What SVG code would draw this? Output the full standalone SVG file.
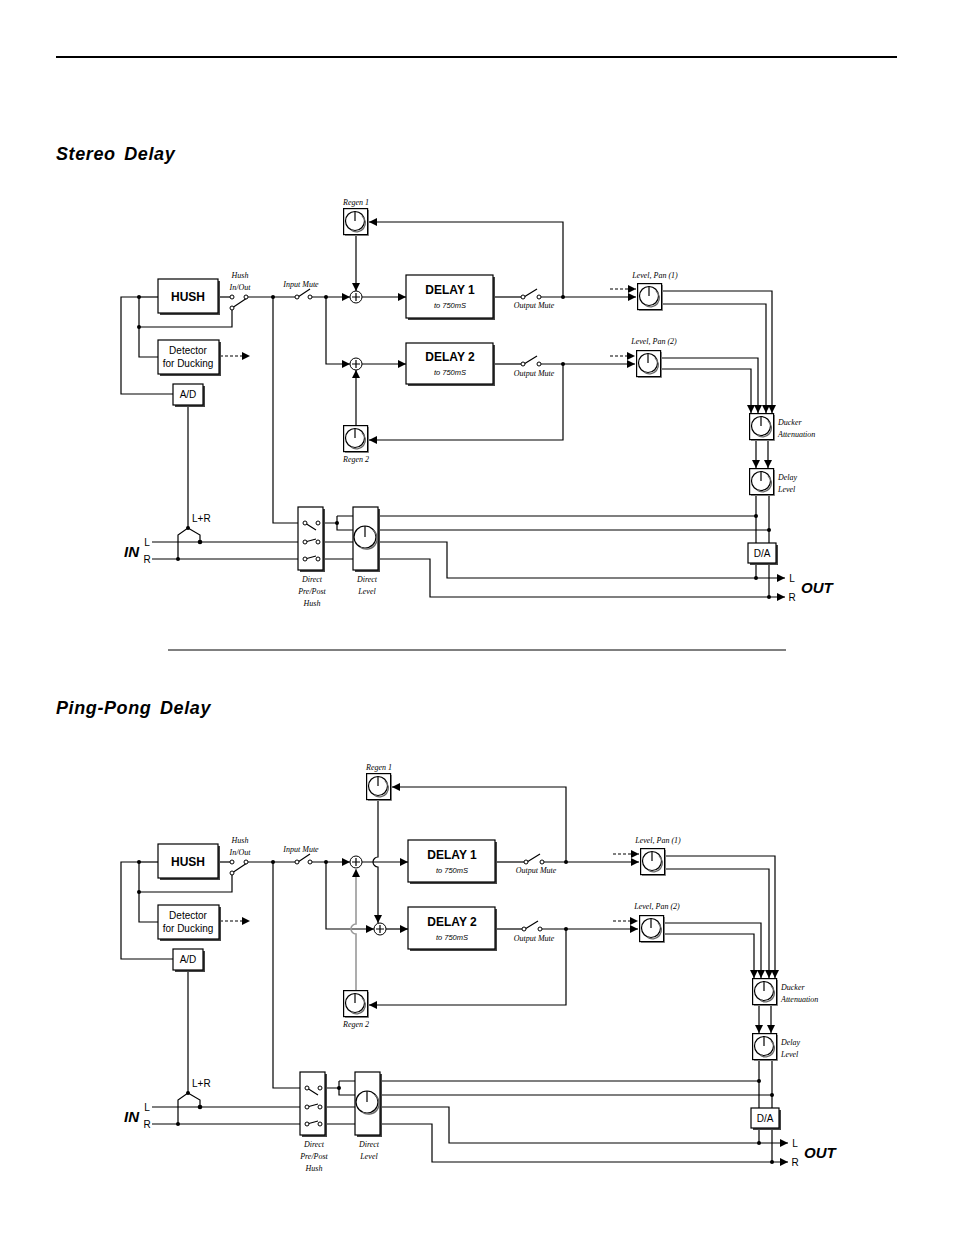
<svg xmlns="http://www.w3.org/2000/svg" width="954" height="1235" viewBox="0 0 954 1235">
<style>
.w{fill:none;stroke:#000;stroke-width:1.2}
.g{fill:none;stroke:#999;stroke-width:1.6}
.d{fill:none;stroke:#000;stroke-width:1.1;stroke-dasharray:3,2}
.box{fill:#fff;stroke:#000;stroke-width:1.2}
.sh{fill:#444}
.dot{fill:#000}
.ct{fill:#fff;stroke:#000;stroke-width:1}
.lab{font-family:"Liberation Serif",serif;font-style:italic;font-size:8px;fill:#000}
.sm{font-family:"Liberation Sans",sans-serif;font-style:italic;font-size:7.5px;fill:#000;text-anchor:middle}
.bt{font-family:"Liberation Sans",sans-serif;font-weight:bold;font-size:12px;fill:#000;text-anchor:middle}
.nt{font-family:"Liberation Sans",sans-serif;font-size:10px;fill:#000;text-anchor:middle}
.lr{font-family:"Liberation Sans",sans-serif;font-size:10px;fill:#000}
.io{font-family:"Liberation Sans",sans-serif;font-weight:bold;font-style:italic;font-size:15px;fill:#000}
.ti{font-family:"Liberation Sans",sans-serif;font-weight:bold;font-style:italic;font-size:18px;letter-spacing:0.6px;word-spacing:3px;fill:#000}
</style>
<defs>
<marker id="a" viewBox="0 0 10 10" refX="10" refY="5" markerWidth="8" markerHeight="8" markerUnits="userSpaceOnUse" orient="auto"><path d="M0,0L10,5L0,10z" fill="#000"/></marker>
<symbol id="knob" viewBox="0 0 27 29">
<rect x="2" y="2" width="24" height="26" fill="#999"/>
<rect x="0.6" y="0.6" width="24" height="26" fill="#fff" stroke="#000" stroke-width="1.2"/>
<circle cx="12" cy="13" r="9.5" fill="#fff" stroke="#000" stroke-width="1.2"/>
<path d="M19,8 A8.5,8.5 0 0 1 8,22" fill="none" stroke="#666" stroke-width="1.3"/>
<line x1="12" y1="13" x2="12" y2="3.5" stroke="#000" stroke-width="1.2"/>
</symbol>
</defs>
<rect width="954" height="1235" fill="#fff"/>
<line x1="56" y1="57" x2="897" y2="57" stroke="#000" stroke-width="2"/>
<text class="ti" x="56" y="160">Stereo Delay</text>
<text class="ti" x="56" y="714">Ping-Pong Delay</text>
<line x1="168" y1="650" x2="786" y2="650" stroke="#000" stroke-width="1"/>

<g id="sd">
<g id="sd-connectors">
<path class="w" d="M139,297H121V394H173"/>
<path class="w" d="M139,297H158"/>
<path class="w" d="M139,297V357H158"/>
<path class="w" d="M139,327H232V309"/>
<path class="w" d="M218,297H230"/>
<path class="w" d="M232,308L247,298"/>
<path class="w" d="M248,297H295"/>
<path class="w" d="M273,297V523H303"/>
<path class="w" d="M298,297L310,289"/>
<path class="w" d="M312,297H350" marker-end="url(#a)"/>
<path class="w" d="M326,297V364H350" marker-end="url(#a)"/>
<path class="w" d="M362,297H406" marker-end="url(#a)"/>
<path class="w" d="M362,364H406" marker-end="url(#a)"/>
<path class="w" d="M356,235V291" marker-end="url(#a)"/>
<path class="w" d="M356,425V370" marker-end="url(#a)"/>
<path class="w" d="M493,297H521"/>
<path class="w" d="M524,297L537,289"/>
<path class="w" d="M541,297H636" marker-end="url(#a)"/>
<path class="w" d="M563,297V222H369" marker-end="url(#a)"/>
<path class="w" d="M493,364H521"/>
<path class="w" d="M524,364L537,356"/>
<path class="w" d="M541,364H635" marker-end="url(#a)"/>
<path class="w" d="M563,364V440H369" marker-end="url(#a)"/>
<path class="d" d="M220,356H250" marker-end="url(#a)"/>
<path class="d" d="M610,289H636" marker-end="url(#a)"/>
<path class="d" d="M610,356H635" marker-end="url(#a)"/>
<path class="w" d="M663,291H772V413" marker-end="url(#a)"/>
<path class="w" d="M663,304H766V413" marker-end="url(#a)"/>
<path class="w" d="M662,358H758V413" marker-end="url(#a)"/>
<path class="w" d="M662,369H751V413" marker-end="url(#a)"/>
<path class="w" d="M756,440V468" marker-end="url(#a)"/>
<path class="w" d="M768,440V468" marker-end="url(#a)"/>
<path class="w" d="M756,494V578"/>
<path class="w" d="M769,494V597"/>
<path class="w" d="M378,516H756"/>
<path class="w" d="M378,530H769"/>
<path class="w" d="M378,542H447V578H785" marker-end="url(#a)"/>
<path class="w" d="M378,559H430V597H785" marker-end="url(#a)"/>
<path class="w" d="M152,542H303"/>
<path class="w" d="M152,559H303"/>
<path class="w" d="M318,542H353"/>
<path class="w" d="M318,559H353"/>
<path class="w" d="M318,523H337M337,516V530H353M337,516H353"/>
<path class="w" d="M188,405V528L178,535V559M188,528L200,535V542"/>
<g class="dot">
<circle cx="139" cy="297" r="2"/><circle cx="139" cy="327" r="2"/><circle cx="273" cy="297" r="2"/>
<circle cx="326" cy="297" r="2"/><circle cx="563" cy="297" r="2"/><circle cx="563" cy="364" r="2"/>
<circle cx="188" cy="528" r="2"/><circle cx="178" cy="559" r="2"/><circle cx="200" cy="542" r="2.3"/>
<circle cx="337" cy="523" r="2"/><circle cx="756" cy="516" r="2"/><circle cx="769" cy="530" r="2"/>
<circle cx="756" cy="578" r="2"/><circle cx="769" cy="597" r="2"/>
</g>
<g>
<circle class="ct" cx="232" cy="297" r="2"/><circle class="ct" cx="246" cy="297" r="2"/><circle class="ct" cx="232" cy="308" r="2"/>
<circle class="ct" cx="297" cy="297" r="2"/><circle class="ct" cx="310" cy="297" r="2"/>
<circle class="ct" cx="523" cy="297" r="2"/><circle class="ct" cx="539" cy="297" r="2"/>
<circle class="ct" cx="523" cy="364" r="2"/><circle class="ct" cx="539" cy="364" r="2"/>
</g>
</g>
<g id="sd-hush"><rect class="sh" x="160" y="281" width="60" height="34"/><rect class="box" x="158" y="279" width="60" height="34"/><text class="bt" x="188" y="301">HUSH</text></g>
<g id="sd-detector"><rect class="sh" x="160" y="342" width="61" height="34"/><rect class="box" x="158" y="340" width="61" height="34"/><text class="nt" x="188" y="354">Detector</text><text class="nt" x="188" y="367">for Ducking</text></g>
<g id="sd-ad"><rect class="sh" x="175" y="386" width="30" height="21"/><rect class="box" x="173" y="384" width="30" height="21"/><text class="nt" x="188" y="398">A/D</text></g>
<g id="sd-hushsw"><text class="lab" x="240" y="278" text-anchor="middle">Hush</text><text class="lab" x="240" y="290" text-anchor="middle">In/Out</text></g>
<g id="sd-inmute"><text class="lab" x="301" y="287" text-anchor="middle">Input Mute</text></g>
<g id="sd-sum1"><circle class="ct" cx="356" cy="297" r="6"/><path class="w" d="M352,297H360M356,293V301"/></g>
<g id="sd-sum2"><circle class="ct" cx="356" cy="364" r="6"/><path class="w" d="M352,364H360M356,360V368"/></g>
<g id="sd-regen1"><use href="#knob" x="343" y="208" width="27" height="29"/><text class="lab" x="356" y="205" text-anchor="middle">Regen 1</text></g>
<g id="sd-regen2"><use href="#knob" x="343" y="425" width="27" height="29"/><text class="lab" x="356" y="462" text-anchor="middle">Regen 2</text></g>
<g id="sd-delay1"><rect class="sh" x="408" y="277" width="87" height="43"/><rect class="box" x="406" y="275" width="87" height="43"/><text class="bt" x="450" y="294">DELAY 1</text><text class="sm" x="450" y="308">to 750mS</text></g>
<g id="sd-delay2"><rect class="sh" x="408" y="345" width="87" height="41"/><rect class="box" x="406" y="343" width="87" height="41"/><text class="bt" x="450" y="361">DELAY 2</text><text class="sm" x="450" y="375">to 750mS</text></g>
<g id="sd-outmute"><text class="lab" x="534" y="308" text-anchor="middle">Output Mute</text><text class="lab" x="534" y="376" text-anchor="middle">Output Mute</text></g>
<g id="sd-lp1"><use href="#knob" x="637" y="283" width="27" height="29"/><text class="lab" x="655" y="278" text-anchor="middle">Level, Pan (1)</text></g>
<g id="sd-lp2"><use href="#knob" x="636" y="350" width="27" height="29"/><text class="lab" x="654" y="344" text-anchor="middle">Level, Pan (2)</text></g>
<g id="sd-ducker"><use href="#knob" x="749" y="413" width="27" height="29"/><text class="lab" x="778" y="425">Ducker</text><text class="lab" x="778" y="437">Attenuation</text></g>
<g id="sd-dlevel"><use href="#knob" x="749" y="468" width="27" height="29"/><text class="lab" x="778" y="480">Delay</text><text class="lab" x="778" y="492">Level</text></g>
<g id="sd-da"><rect class="sh" x="750" y="545" width="28" height="20"/><rect class="box" x="748" y="543" width="28" height="20"/><text class="nt" x="762" y="557">D/A</text></g>
<g id="sd-direct"><rect class="sh" x="300" y="509" width="25" height="63"/><rect class="box" x="298" y="507" width="25" height="63"/>
<path class="w" d="M305,523L316,530M305,542L316,539M305,559L316,556"/>
<circle class="ct" cx="305" cy="523" r="2"/><circle class="ct" cx="318" cy="523" r="2"/><circle class="ct" cx="305" cy="542" r="2"/><circle class="ct" cx="318" cy="542" r="2"/><circle class="ct" cx="305" cy="559" r="2"/><circle class="ct" cx="318" cy="559" r="2"/>
<text class="lab" x="312" y="582" text-anchor="middle">Direct</text><text class="lab" x="312" y="594" text-anchor="middle">Pre/Post</text><text class="lab" x="312" y="606" text-anchor="middle">Hush</text></g>
<g id="sd-dirlevel"><rect class="sh" x="355" y="509" width="25" height="63"/><rect class="box" x="353" y="507" width="25" height="63"/>
<circle cx="365" cy="537" r="11" fill="#fff" stroke="#000" stroke-width="1.2"/><path d="M373,530A10,10 0 0 1 360,547" fill="none" stroke="#666" stroke-width="1.3"/><line x1="365" y1="537" x2="365" y2="526" stroke="#000" stroke-width="1.2"/>
<text class="lab" x="367" y="582" text-anchor="middle">Direct</text><text class="lab" x="367" y="594" text-anchor="middle">Level</text></g>
<g id="sd-io"><text class="io" x="124" y="557">IN</text><text class="nt" x="147" y="546" font-size="9">L</text><text class="nt" x="147" y="563" font-size="9">R</text><text class="lr" x="192" y="522">L+R</text>
<text class="nt" x="792" y="582" font-size="9">L</text><text class="nt" x="792" y="601" font-size="9">R</text><text class="io" x="801" y="593">OUT</text></g>
</g>

<g id="pp" transform="translate(0,565)">
<g id="pp-connectors">
<path class="w" d="M139,297H121V394H173"/>
<path class="w" d="M139,297H158"/>
<path class="w" d="M139,297V357H158"/>
<path class="w" d="M139,327H232V309"/>
<path class="w" d="M218,297H230"/>
<path class="w" d="M232,308L247,298"/>
<path class="w" d="M248,297H295"/>
<path class="w" d="M273,297V523H305"/>
<path class="w" d="M298,297L310,289"/>
<path class="w" d="M312,297H350" marker-end="url(#a)"/>
<path class="w" d="M326,297V364H374" marker-end="url(#a)"/>
<path class="w" d="M362,297H408" marker-end="url(#a)"/>
<path class="w" d="M386,364H408" marker-end="url(#a)"/>
<path class="w" d="M378,235V292A5,5 0 0 0 378,302V358" marker-end="url(#a)"/>
<path class="g" d="M356,425V369A5,5 0 0 1 356,359V304" marker-end="url(#a)"/>
<path class="w" d="M496,297H524"/>
<path class="w" d="M527,297L540,289"/>
<path class="w" d="M544,297H639" marker-end="url(#a)"/>
<path class="w" d="M566,297V222H392" marker-end="url(#a)"/>
<path class="w" d="M496,364H522"/>
<path class="w" d="M525,364L538,356"/>
<path class="w" d="M542,364H638" marker-end="url(#a)"/>
<path class="w" d="M566,364V440H369" marker-end="url(#a)"/>
<path class="d" d="M220,356H250" marker-end="url(#a)"/>
<path class="d" d="M613,289H639" marker-end="url(#a)"/>
<path class="d" d="M613,356H638" marker-end="url(#a)"/>
<path class="w" d="M666,291H775V413" marker-end="url(#a)"/>
<path class="w" d="M666,304H769V413" marker-end="url(#a)"/>
<path class="w" d="M665,358H761V413" marker-end="url(#a)"/>
<path class="w" d="M665,369H754V413" marker-end="url(#a)"/>
<path class="w" d="M759,440V468" marker-end="url(#a)"/>
<path class="w" d="M771,440V468" marker-end="url(#a)"/>
<path class="w" d="M759,494V578"/>
<path class="w" d="M772,494V597"/>
<path class="w" d="M380,516H759"/>
<path class="w" d="M380,530H772"/>
<path class="w" d="M380,542H449V578H788" marker-end="url(#a)"/>
<path class="w" d="M380,559H432V597H788" marker-end="url(#a)"/>
<path class="w" d="M152,542H305"/>
<path class="w" d="M152,559H305"/>
<path class="w" d="M320,542H355"/>
<path class="w" d="M320,559H355"/>
<path class="w" d="M320,523H339M339,516V530H355M339,516H355"/>
<path class="w" d="M188,405V528L178,535V559M188,528L200,535V542"/>
<g class="dot">
<circle cx="139" cy="297" r="2"/><circle cx="139" cy="327" r="2"/><circle cx="273" cy="297" r="2"/>
<circle cx="326" cy="297" r="2"/><circle cx="566" cy="297" r="2"/><circle cx="566" cy="364" r="2"/>
<circle cx="188" cy="528" r="2"/><circle cx="178" cy="559" r="2"/><circle cx="200" cy="542" r="2.3"/>
<circle cx="339" cy="523" r="2"/><circle cx="759" cy="516" r="2"/><circle cx="772" cy="530" r="2"/>
<circle cx="759" cy="578" r="2"/><circle cx="772" cy="597" r="2"/>
</g>
<g>
<circle class="ct" cx="232" cy="297" r="2"/><circle class="ct" cx="246" cy="297" r="2"/><circle class="ct" cx="232" cy="308" r="2"/>
<circle class="ct" cx="297" cy="297" r="2"/><circle class="ct" cx="310" cy="297" r="2"/>
<circle class="ct" cx="526" cy="297" r="2"/><circle class="ct" cx="542" cy="297" r="2"/>
<circle class="ct" cx="524" cy="364" r="2"/><circle class="ct" cx="540" cy="364" r="2"/>
</g>
</g>
<g id="pp-hush"><rect class="sh" x="160" y="281" width="60" height="34"/><rect class="box" x="158" y="279" width="60" height="34"/><text class="bt" x="188" y="301">HUSH</text></g>
<g id="pp-detector"><rect class="sh" x="160" y="342" width="61" height="34"/><rect class="box" x="158" y="340" width="61" height="34"/><text class="nt" x="188" y="354">Detector</text><text class="nt" x="188" y="367">for Ducking</text></g>
<g id="pp-ad"><rect class="sh" x="175" y="386" width="30" height="21"/><rect class="box" x="173" y="384" width="30" height="21"/><text class="nt" x="188" y="398">A/D</text></g>
<g id="pp-hushsw"><text class="lab" x="240" y="278" text-anchor="middle">Hush</text><text class="lab" x="240" y="290" text-anchor="middle">In/Out</text></g>
<g id="pp-inmute"><text class="lab" x="301" y="287" text-anchor="middle">Input Mute</text></g>
<g id="pp-sum1"><circle class="ct" cx="356" cy="297" r="6"/><path class="w" d="M352,297H360M356,293V301"/></g>
<g id="pp-sum2"><circle class="ct" cx="380" cy="364" r="6"/><path class="w" d="M376,364H384M380,360V368"/></g>
<g id="pp-regen1"><use href="#knob" x="366" y="208" width="27" height="29"/><text class="lab" x="379" y="205" text-anchor="middle">Regen 1</text></g>
<g id="pp-regen2"><use href="#knob" x="343" y="425" width="27" height="29"/><text class="lab" x="356" y="462" text-anchor="middle">Regen 2</text></g>
<g id="pp-delay1"><rect class="sh" x="410" y="277" width="87" height="42"/><rect class="box" x="408" y="275" width="87" height="42"/><text class="bt" x="452" y="294">DELAY 1</text><text class="sm" x="452" y="308">to 750mS</text></g>
<g id="pp-delay2"><rect class="sh" x="410" y="344" width="87" height="42"/><rect class="box" x="408" y="342" width="87" height="42"/><text class="bt" x="452" y="361">DELAY 2</text><text class="sm" x="452" y="375">to 750mS</text></g>
<g id="pp-outmute"><text class="lab" x="536" y="308" text-anchor="middle">Output Mute</text><text class="lab" x="534" y="376" text-anchor="middle">Output Mute</text></g>
<g id="pp-lp1"><use href="#knob" x="640" y="283" width="27" height="29"/><text class="lab" x="658" y="278" text-anchor="middle">Level, Pan (1)</text></g>
<g id="pp-lp2"><use href="#knob" x="639" y="350" width="27" height="29"/><text class="lab" x="657" y="344" text-anchor="middle">Level, Pan (2)</text></g>
<g id="pp-ducker"><use href="#knob" x="752" y="413" width="27" height="29"/><text class="lab" x="781" y="425">Ducker</text><text class="lab" x="781" y="437">Attenuation</text></g>
<g id="pp-dlevel"><use href="#knob" x="752" y="468" width="27" height="29"/><text class="lab" x="781" y="480">Delay</text><text class="lab" x="781" y="492">Level</text></g>
<g id="pp-da"><rect class="sh" x="753" y="545" width="28" height="20"/><rect class="box" x="751" y="543" width="28" height="20"/><text class="nt" x="765" y="557">D/A</text></g>
<g id="pp-direct"><rect class="sh" x="302" y="509" width="25" height="63"/><rect class="box" x="300" y="507" width="25" height="63"/>
<path class="w" d="M307,523L318,530M307,542L318,539M307,559L318,556"/>
<circle class="ct" cx="307" cy="523" r="2"/><circle class="ct" cx="320" cy="523" r="2"/><circle class="ct" cx="307" cy="542" r="2"/><circle class="ct" cx="320" cy="542" r="2"/><circle class="ct" cx="307" cy="559" r="2"/><circle class="ct" cx="320" cy="559" r="2"/>
<text class="lab" x="314" y="582" text-anchor="middle">Direct</text><text class="lab" x="314" y="594" text-anchor="middle">Pre/Post</text><text class="lab" x="314" y="606" text-anchor="middle">Hush</text></g>
<g id="pp-dirlevel"><rect class="sh" x="357" y="509" width="25" height="63"/><rect class="box" x="355" y="507" width="25" height="63"/>
<circle cx="367" cy="537" r="11" fill="#fff" stroke="#000" stroke-width="1.2"/><path d="M375,530A10,10 0 0 1 362,547" fill="none" stroke="#666" stroke-width="1.3"/><line x1="367" y1="537" x2="367" y2="526" stroke="#000" stroke-width="1.2"/>
<text class="lab" x="369" y="582" text-anchor="middle">Direct</text><text class="lab" x="369" y="594" text-anchor="middle">Level</text></g>
<g id="pp-io"><text class="io" x="124" y="557">IN</text><text class="nt" x="147" y="546" font-size="9">L</text><text class="nt" x="147" y="563" font-size="9">R</text><text class="lr" x="192" y="522">L+R</text>
<text class="nt" x="795" y="582" font-size="9">L</text><text class="nt" x="795" y="601" font-size="9">R</text><text class="io" x="804" y="593">OUT</text></g>
</g>
</svg>
